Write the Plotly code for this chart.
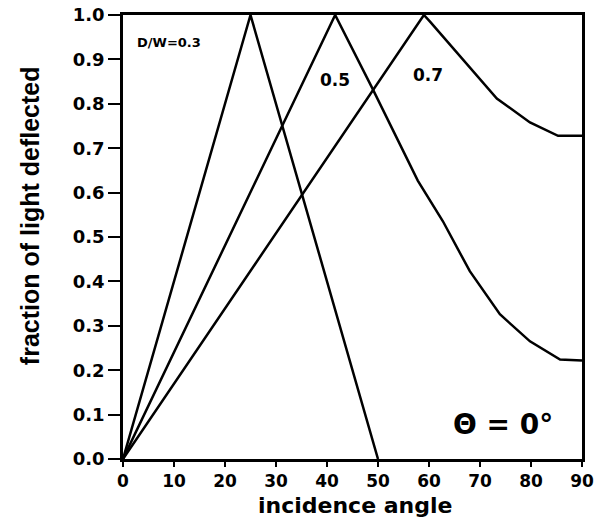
import plotly.graph_objects as go

# D/W = 0.3
x_03 = [0, 25, 50]
y_03 = [0.0, 1.0, 0.0]

# D/W = 0.5
x_05 = [0, 41.6, 48.8, 57.8, 62.7, 68.0, 73.9, 79.8, 85.7, 90]
y_05 = [0.0, 1.0, 0.837, 0.627, 0.536, 0.423, 0.326, 0.265, 0.224, 0.222]

# D/W = 0.7
x_07 = [0, 59.0, 60.2, 66.7, 73.3, 79.8, 85.3, 90]
y_07 = [0.0, 1.0, 0.985, 0.898, 0.812, 0.758, 0.728, 0.728]

x_ticks = [0, 10, 20, 30, 40, 50, 60, 70, 80, 90]
y_ticks = [0.0, 0.1, 0.2, 0.3, 0.4, 0.5, 0.6, 0.7, 0.8, 0.9, 1.0]

labels = ["D/W=0.3", "0.5", "0.7"]

fig = go.Figure()
for xs, ys in [(x_03, y_03), (x_05, y_05), (x_07, y_07)]:
    fig.add_trace(go.Scatter(x=xs, y=ys, mode="lines",
                             line=dict(color="black", width=2.5),
                             showlegend=False, hoverinfo="skip"))

xtickfont = dict(family="DejaVu Sans", size=17, color="black", weight="bold")
ytickfont = dict(family="DejaVu Sans", size=18, color="black", weight="bold")

fig.update_xaxes(range=[0, 90], tickvals=x_ticks, ticktext=[str(v) for v in x_ticks],
                 ticks="outside", ticklen=5, tickwidth=2, tickcolor="black",
                 showline=True, linewidth=2.5, linecolor="black", mirror=True,
                 showgrid=False, zeroline=False, tickfont=xtickfont, automargin=False)
fig.update_yaxes(range=[0, 1.0], tickvals=y_ticks, ticktext=[f"{v:.1f}" for v in y_ticks],
                 ticks="outside", ticklen=12, tickwidth=2, tickcolor="black",
                 showline=True, linewidth=2.5, linecolor="black", mirror=True,
                 showgrid=False, zeroline=False, tickfont=ytickfont, automargin=False)

# axis titles
fig.add_annotation(xref="paper", yref="paper", x=0.505, y=-0.1351, yanchor="bottom",
                   text="incidence angle", showarrow=False, borderpad=0,
                   font=dict(family="DejaVu Sans", size=22, color="black", weight="bold"))
fig.add_annotation(xref="paper", yref="paper", x=-0.2026, y=0.547, xanchor="center",
                   yanchor="middle", textangle=-90,
                   text="fraction of light deflected", showarrow=False,
                   font=dict(family="Liberation Sans", size=25, color="black", weight="bold"))

fig.add_annotation(x=2.35, y=0.939, text=labels[0], showarrow=False, xanchor="left",
                   font=dict(family="DejaVu Sans", size=13, color="black", weight="bold"))
fig.add_annotation(x=41.6, y=0.854, text=labels[1], showarrow=False,
                   font=dict(family="DejaVu Sans", size=17, color="black", weight="bold"))
fig.add_annotation(x=59.8, y=0.865, text=labels[2], showarrow=False,
                   font=dict(family="DejaVu Sans", size=17, color="black", weight="bold"))
fig.add_annotation(x=74.5, y=0.077, text="Θ = 0°", showarrow=False,
                   font=dict(family="DejaVu Sans", size=28, color="black", weight="bold"))

fig.update_layout(width=597, height=519, plot_bgcolor="white", paper_bgcolor="white",
                  margin=dict(l=123, r=15, t=15, b=60))

fig.write_html("out.html", config={"displayModeBar": False},
               post_script="document.body.style.margin='0';document.body.style.padding='0';")
